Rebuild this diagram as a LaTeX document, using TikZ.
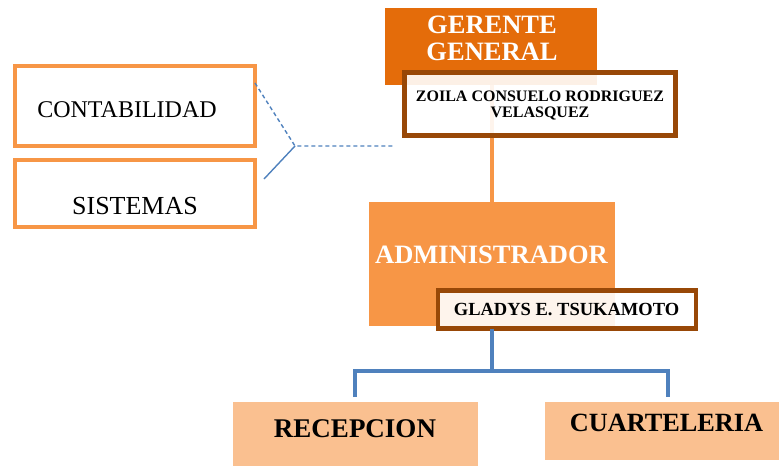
\documentclass[tikz,border=0pt]{standalone}
\usepackage{fontspec}
\setmainfont{Liberation Serif}
\definecolor{darkorg}{RGB}{228,108,10}
\definecolor{org}{RGB}{247,150,70}
\definecolor{lightorg}{RGB}{250,192,144}
\definecolor{brownb}{RGB}{152,72,7}
\definecolor{blueln}{RGB}{79,129,189}
\tikzset{
  box/.style={inner sep=0pt, outer sep=0pt, rectangle},
  namebox/.style={box, draw=brownb, line width=4.5pt, fill=white, fill opacity=0.9, text opacity=1},
  deptbox/.style={box, draw=org, line width=4pt, fill=white},
  lbl/.style={inner sep=0pt, outer sep=0pt, align=center},
  orgline/.style={draw=org, line width=4pt},
  treeline/.style={draw=blueln, line width=4pt},
  thinblue/.style={draw=blueln, line width=1.4pt},
}
\begin{document}
\begin{tikzpicture}[x=1pt,y=-1pt]
\useasboundingbox (0,0) rectangle (779,466);
% main boxes
\node[box, fill=darkorg, minimum width=212pt, minimum height=77pt] (gerente) at (491,46.5) {};
\node[box, fill=org, minimum width=246pt, minimum height=124pt] (adm) at (492,264) {};
\draw[orgline] (gerente.south -| adm.north) -- (adm.north);
\node[namebox, minimum width=271pt, minimum height=63pt] (zoila) at (540,104) {};
\node[namebox, minimum width=258pt, minimum height=38pt] (gladys) at (567,309.5) {};
\node[box, fill=lightorg, minimum width=245pt, minimum height=64pt] (recep) at (355.5,434) {};
\node[box, fill=lightorg, minimum width=234pt, minimum height=58pt] (cuart) at (662,431) {};
% left boxes
\node[deptbox, minimum width=240pt, minimum height=80pt] (conta) at (135,106) {};
\node[deptbox, minimum width=240pt, minimum height=67pt] (sist) at (135,193.5) {};
% texts
\node[lbl, text=white, font=\fontsize{26.5}{27}\selectfont\bfseries] (gtext) at (492,38) {GERENTE\\GENERAL};
\node[lbl, font=\fontsize{16}{16}\selectfont\bfseries] (ztext) at (540,105) {ZOILA CONSUELO RODRIGUEZ\\VELASQUEZ};
\node[lbl, anchor=base, text=white, font=\fontsize{26.5}{28}\selectfont\bfseries] (atext) at (491.5,263) {ADMINISTRADOR};
\node[lbl, anchor=base, font=\fontsize{18.5}{20}\selectfont\bfseries] (gltext) at (566.5,315) {GLADYS E. TSUKAMOTO};
\node[lbl, anchor=base, font=\fontsize{27}{29}\selectfont\bfseries] (rtext) at (355,437) {RECEPCION};
\node[lbl, anchor=base, font=\fontsize{26.3}{28}\selectfont\bfseries] (ctext) at (666.5,431) {CUARTELERIA};
\node[lbl, anchor=base, font=\fontsize{24}{26}\selectfont] (cotext) at (127,117) {CONTABILIDAD};
\node[lbl, anchor=base, font=\fontsize{26}{28}\selectfont] (stext) at (135,214) {SISTEMAS};
% tree connector
\coordinate (fork) at (492,371);
\coordinate (bl) at (355,371);
\coordinate (br) at (668,371);
\coordinate (blend) at (355,397);
\coordinate (brend) at (668,397);
\draw[treeline] (adm.center |- gladys.south) -- (fork);
\draw[treeline] (blend) -- (bl) -- (br) -- (brend);
% left connector
\coordinate (jn) at (295,146);
\coordinate (jnend) at (393,146);
\coordinate (sistend) at (264,179);
\draw[thinblue, dash pattern=on 4pt off 3pt] ([yshift=23pt]conta.east) -- (jn) -- (jnend);
\draw[thinblue] (sistend) -- (jn);
\end{tikzpicture}
\end{document}
